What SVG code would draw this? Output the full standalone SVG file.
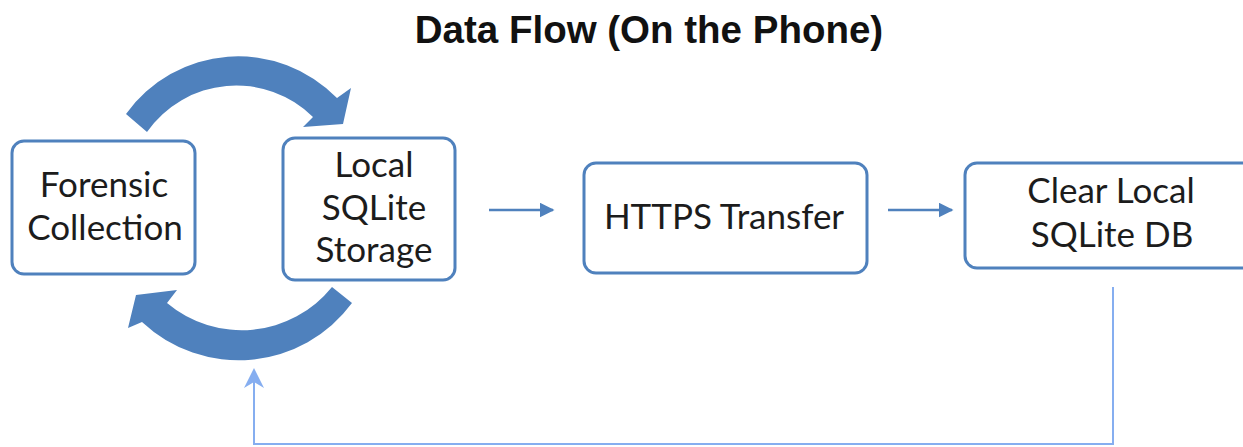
<svg xmlns="http://www.w3.org/2000/svg" width="1243" height="447" viewBox="0 0 1243 447">
  <defs>
    <style>
      .title { font-family: "Liberation Sans", Arial, sans-serif; font-weight: bold; font-size: 38.5px; fill: #111; text-anchor: middle; }
      .box { fill: #ffffff; stroke: #4f81bd; stroke-width: 3; }
      .label { font-family: Lato, "Open Sans", sans-serif; font-size: 35px; fill: #1c1c1c; text-anchor: middle; }
      .cycle { fill: #4f81bd; stroke: none; }
      .flow { fill: none; stroke: #4f81bd; stroke-width: 2.5; }
      .loop { fill: none; stroke: #86aef0; stroke-width: 2; }
    </style>
    <marker id="head" viewBox="0 0 10 10" refX="9" refY="5" markerWidth="6" markerHeight="6" markerUnits="strokeWidth" orient="auto">
      <path d="M0,0 L10,5 L0,10 Z" fill="#4f81bd"/>
    </marker>
    <marker id="headLight" viewBox="0 0 10 10" refX="9" refY="5" markerWidth="10" markerHeight="10" markerUnits="strokeWidth" orient="auto">
      <path d="M0,0 L10,5 L0,10 L3,5 Z" fill="#86aef0"/>
    </marker>
  </defs>

  <rect width="1243" height="447" fill="#ffffff"/>

  <text class="title" x="649" y="43">Data Flow (On the Phone)</text>

  <!-- connectors -->
  <g id="connectors">
    <!-- upper curved arrow: collection -> storage -->
    <path class="cycle" d="M126,114 A138,138 0 0 1 337,98 L351,88 L343,124 L303,127 L313,117 A109,109 0 0 0 147,132 Z"/>
    <!-- lower curved arrow: storage -> collection -->
    <path class="cycle" d="M352,303 A141,141 0 0 1 142,322 L128,328 L136,295 L177,290 L167,303 A116,116 0 0 0 332,287 Z"/>
    <!-- straight arrows -->
    <line class="flow" x1="489" y1="210" x2="553" y2="210" marker-end="url(#head)"/>
    <line class="flow" x1="888" y1="210" x2="952" y2="210" marker-end="url(#head)"/>
    <!-- return path -->
    <path class="loop" d="M1113,287 L1113,444 L254,444 L254,370" marker-end="url(#headLight)"/>
  </g>

  <g id="forensic-collection">
    <rect class="box" x="12" y="141" width="183" height="133" rx="12"/>
    <text class="label" x="104" y="197">Forensic</text>
    <text class="label" x="105" y="240">Collection</text>
  </g>

  <g id="local-sqlite-storage">
    <rect class="box" x="283" y="138" width="172" height="142" rx="12"/>
    <text class="label" x="374" y="177">Local</text>
    <text class="label" x="374" y="220">SQLite</text>
    <text class="label" x="374" y="262">Storage</text>
  </g>

  <g id="https-transfer">
    <rect class="box" x="584" y="163" width="283" height="110" rx="12"/>
    <text class="label" x="724" y="229">HTTPS Transfer</text>
  </g>

  <g id="clear-local-db">
    <rect class="box" x="965" y="163" width="300" height="105" rx="12"/>
    <text class="label" x="1111" y="203">Clear Local</text>
    <text class="label" x="1112" y="247">SQLite DB</text>
  </g>
</svg>
